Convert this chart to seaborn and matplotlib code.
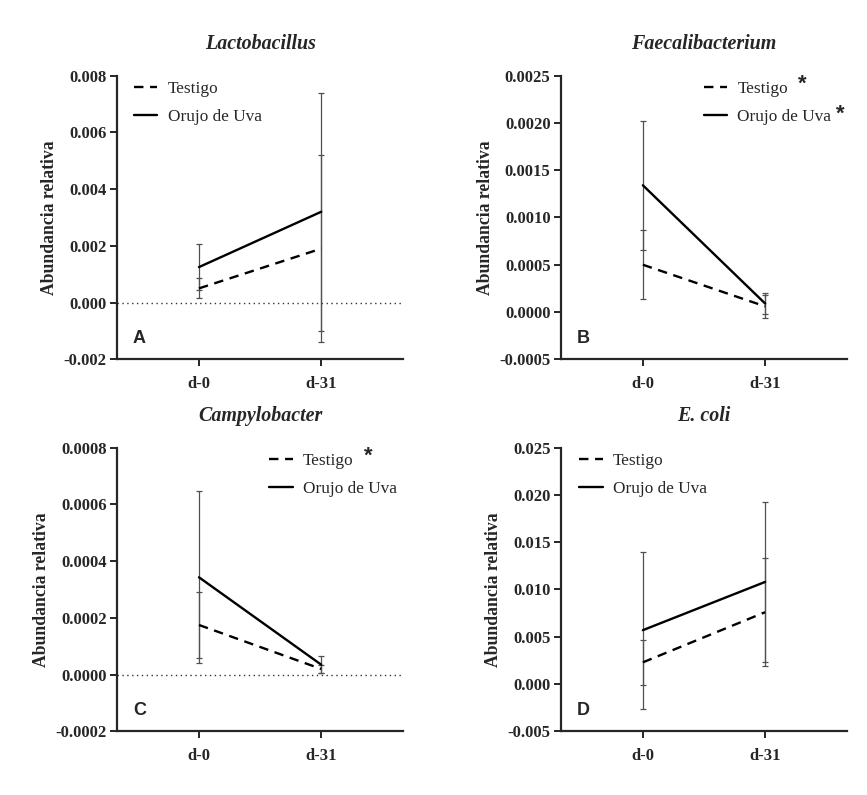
import numpy as np
import pandas as pd
import matplotlib
matplotlib.use("Agg")
import matplotlib.pyplot as plt
import seaborn as sns

# Values
days = ["d-0", "d-31"]
groups = ["Testigo", "Orujo de Uva"]

lacto_testigo = [0.0005, 0.0019]
lacto_testigo_err = [0.00035, 0.0033]
lacto_orujo = [0.00125, 0.0032]
lacto_orujo_err = [0.0008, 0.0042]

faeca_testigo = [0.0005, 0.00006]
faeca_testigo_err = [0.000365, 0.00012]
faeca_orujo = [0.00134, 0.00009]
faeca_orujo_err = [0.00068, 0.00011]

campy_testigo = [0.000175, 0.00002]
campy_testigo_err = [0.000115, 0.000015]
campy_orujo = [0.000343, 0.000035]
campy_orujo_err = [0.000303, 0.00003]

ecoli_testigo = [0.0023, 0.0076]
ecoli_testigo_err = [0.0024, 0.0057]
ecoli_orujo = [0.0057, 0.0108]
ecoli_orujo_err = [0.0083, 0.0085]

panels = [
    ("Lactobacillus", "A", lacto_testigo, lacto_testigo_err, lacto_orujo, lacto_orujo_err,
     (-0.002, 0.008), 0.002, 3, True, []),
    ("Faecalibacterium", "B", faeca_testigo, faeca_testigo_err, faeca_orujo, faeca_orujo_err,
     (-0.0005, 0.0025), 0.0005, 4, False, ["Testigo", "Orujo de Uva"]),
    ("Campylobacter", "C", campy_testigo, campy_testigo_err, campy_orujo, campy_orujo_err,
     (-0.0002, 0.0008), 0.0002, 4, True, ["Testigo"]),
    ("E. coli", "D", ecoli_testigo, ecoli_testigo_err, ecoli_orujo, ecoli_orujo_err,
     (-0.005, 0.025), 0.005, 3, False, []),
]

sns.set_style("ticks")
plt.rcParams["font.family"] = ["Liberation Serif", "DejaVu Serif"]
plt.rcParams["font.weight"] = "bold"
plt.rcParams["axes.linewidth"] = 1.6

fig = plt.figure(figsize=(8.67, 7.95), dpi=100)
boxes = [(0.135, 0.548), (0.647, 0.548), (0.135, 0.080), (0.647, 0.080)]
w, h = 0.330, 0.357

# legend placement (axes fraction, upper left corner)
leg_pos = [(0.005, 1.035), (0.445, 1.035), (0.478, 1.035), (0.01, 1.035)]

# significance marks next to legend labels
star_xy = {
    ("B", "Testigo"): (0.842, 0.97),
    ("B", "Orujo de Uva"): (0.975, 0.865),
    ("C", "Testigo"): (0.878, 0.97),
}

for (title, letter, t_mean, t_err, o_mean, o_err, ylim, step, dec, zero_line, stars), \
        (x0, y0), lp in zip(panels, boxes, leg_pos):
    ax = fig.add_axes([x0, y0, w, h])
    df = pd.DataFrame({
        "pos": [0, 1, 0, 1],
        "valor": list(t_mean) + list(o_mean),
        "grupo": ["Testigo"] * 2 + ["Orujo de Uva"] * 2,
    })
    sns.lineplot(data=df, x="pos", y="valor", style="grupo", style_order=groups,
                 dashes={"Testigo": (4, 2.8), "Orujo de Uva": ""},
                 color="black", linewidth=1.7, ax=ax, legend=True)
    for mean, err in [(t_mean, t_err), (o_mean, o_err)]:
        ax.errorbar([0, 1], mean, yerr=err, fmt="none", ecolor="#505050",
                    elinewidth=0.9, capsize=2.5, capthick=0.9, zorder=1)

    if zero_line:
        ax.axhline(0, color="#333333", lw=1.0, ls=(0, (1, 2.5)), zorder=0)

    ax.set_xlim(-0.67, 1.67)
    ax.set_xticks([0, 1])
    ax.set_xticklabels(days)
    ax.set_ylim(*ylim)
    ax.set_yticks(np.arange(ylim[0], ylim[1] + step / 2, step))
    ax.yaxis.set_major_formatter(matplotlib.ticker.FormatStrFormatter(f"%.{dec}f"))
    ax.tick_params(axis="both", labelsize=12, width=1.4, length=5, pad=2.5)
    ax.tick_params(axis="x", pad=7)
    ax.set_xlabel("")
    ax.set_ylabel("Abundancia relativa", fontsize=12.7, fontweight="bold", labelpad=4)
    ax.set_title(title, fontsize=14.4, fontstyle="italic", fontweight="bold", pad=19)
    sns.despine(ax=ax)

    handles, labels = ax.get_legend_handles_labels()
    ax.legend(handles, labels, loc="upper left", bbox_to_anchor=lp, frameon=False,
              prop={"family": "Liberation Serif", "weight": "normal", "size": 12.4},
              handlelength=1.35, handletextpad=0.6, labelspacing=0.7)

    ax.text(0.055, 0.045, letter, transform=ax.transAxes, fontsize=13,
            family="Liberation Sans", fontweight="bold", ha="left", va="bottom")

    for s in stars:
        sx, sy = star_xy[(letter, s)]
        ax.text(sx, sy, "*", transform=ax.transAxes, fontsize=16,
                family="Liberation Sans", fontweight="bold", ha="center", va="center")

fig.savefig("out.png", dpi=100)
